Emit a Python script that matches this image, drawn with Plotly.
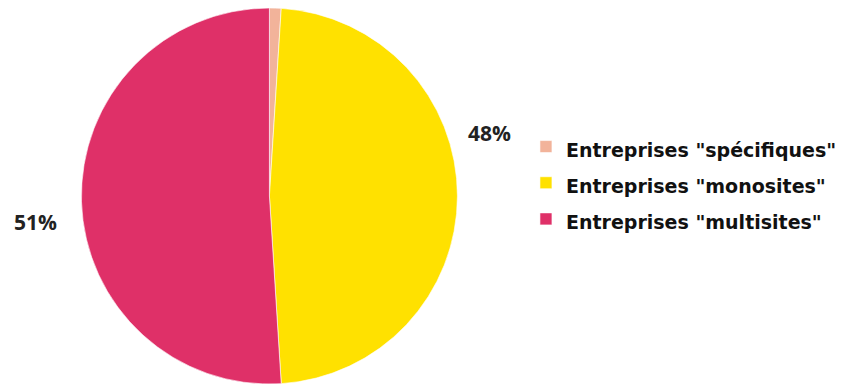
import plotly.graph_objects as go

# Share of companies by type
categories = ['Entreprises "spécifiques"', 'Entreprises "monosites"', 'Entreprises "multisites"']
shares = [1, 48, 51]
colors = ["#F2B39A", "#FFE100", "#DF3068"]

# Percent labels placed outside the pie (the smallest slice has none)
label_pos = {1: (0.5865, 0.653), 2: (0.042, 0.422)}

W, H = 842, 384

# Legend text is drawn at 19px while the legend font size sets the row spacing
legend_labels = [f"<span style='font-size:19px'>{c}</span>" for c in categories]

fig = go.Figure(
    go.Pie(
        labels=legend_labels,
        values=shares,
        sort=False,
        direction="clockwise",
        rotation=0,
        textinfo="none",
        hoverinfo="label+percent",
        marker=dict(colors=colors, line=dict(color="rgba(255,255,255,0.6)", width=1)),
        domain=dict(x=[82 / W, 462 / W], y=[0 / H, 1 - 8 / H]),
    )
)

total = sum(shares)
for i, (x, y) in label_pos.items():
    fig.add_annotation(
        x=x, y=y, xref="paper", yref="paper",
        text=f"{round(shares[i] / total * 100)}%",
        showarrow=False,
        font=dict(family="Open Sans, Liberation Sans, sans-serif", size=21, color="#222222"),
        xanchor="center", yanchor="middle",
    )

fig.update_layout(
    width=W, height=H,
    margin=dict(l=0, r=0, t=0, b=0),
    paper_bgcolor="white",
    plot_bgcolor="white",
    showlegend=True,
    legend=dict(
        x=531 / W, y=1 - 183 / H, xanchor="left", yanchor="middle",
        font=dict(family="DejaVu Sans, Verdana, sans-serif", size=25.5, color="#111111"),
        itemwidth=30,
    ),
)

fig.update_annotations(font_weight="bold")
fig.update_layout(legend_font_weight="bold")

fig.write_html("out.html")
